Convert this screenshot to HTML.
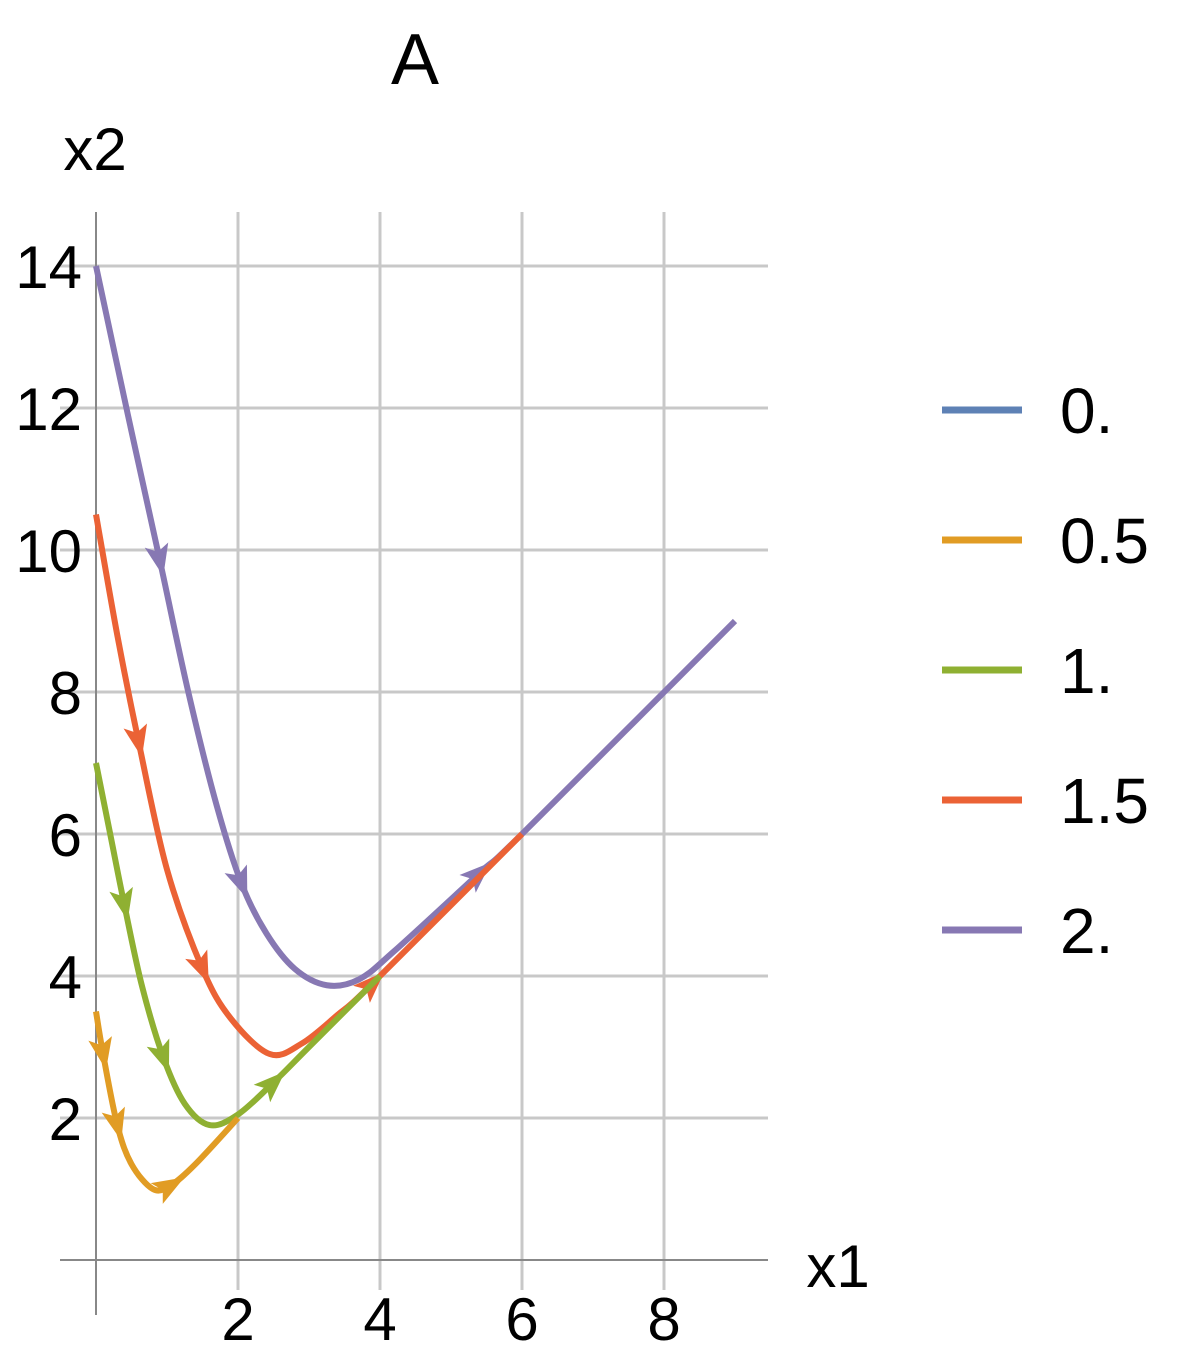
<!DOCTYPE html>
<html><head><meta charset="utf-8"><style>
body{margin:0;background:#fff}
svg{display:block;font-family:"Liberation Sans",sans-serif}
</style></head><body>
<svg id="chart" width="1185" height="1360">
<g id="grid"></g><g id="axes"></g><g id="series"></g><g id="legend"></g>
<text x="415" y="84" font-size="72" text-anchor="middle">A</text>
<text x="95" y="170" font-size="60" text-anchor="middle">x2</text>
<text x="838" y="1287" font-size="60" text-anchor="middle">x1</text>
</svg>
<script>
const xTicks=[2,4,6,8];
const yTicks=[2,4,6,8,10,12,14];
const seriesNames=["0.","0.5","1.","1.5","2."];
const seriesColors=["#5E81B5","#E19C24","#8FB032","#EB6235","#8778B3"];
const orangeX=[0,0.1,0.3,0.5,0.8,1.05,1.4,2];
const orangeY=[3.5,2.9,1.9,1.35,1.0,1.05,1.35,2];
const greenX=[0,0.2,0.4,0.65,0.95,1.25,1.6,2.0,2.5,3,4];
const greenY=[7,6.0,5.0,3.85,2.85,2.2,1.9,2.05,2.5,3,4];
const redX=[0,0.3,0.6,1.0,1.5,1.9,2.45,2.9,3.4,3.9,6];
const redY=[10.5,8.8,7.3,5.5,4.1,3.4,2.9,3.05,3.45,3.9,6];
const purpleX=[0,0.45,0.9,1.3,1.7,2.05,2.4,2.8,3.25,3.7,4.2,5.4,6,9];
const purpleY=[14,11.9,9.85,8.0,6.4,5.3,4.6,4.1,3.87,3.95,4.35,5.45,6,9];
const arrowIdx={1:[1,2,5],2:[2,4,8],3:[2,4,9],4:[2,5,11]};
const NS="http://www.w3.org/2000/svg";
const sx=v=>96+71*v, sy=v=>1260-71*v;
function mk(tag,attrs,parent){const e=document.createElementNS(NS,tag);for(const k in attrs)e.setAttribute(k,attrs[k]);parent.appendChild(e);return e;}
const grid=document.getElementById('grid'),axes=document.getElementById('axes'),ser=document.getElementById('series'),leg=document.getElementById('legend');
xTicks.forEach(t=>{
 const l=mk('line',{x1:sx(t),x2:sx(t),y1:212,y2:1290,stroke:'#c8c8c8','stroke-width':3},grid);
 
 
 const tx=mk('text',{x:sx(t),y:1340,'font-size':60,'text-anchor':'middle'},axes);tx.textContent=t;
 
 
});
yTicks.forEach(t=>{
 const l=mk('line',{x1:60,x2:768,y1:sy(t),y2:sy(t),stroke:'#c8c8c8','stroke-width':3},grid);
 
 
 const tx=mk('text',{x:82,y:sy(t)+22,'font-size':60,'text-anchor':'end'},axes);tx.textContent=t;
 
 
});
const ya=mk('line',{x1:96,x2:96,y1:212,y2:1315,stroke:'#888','stroke-width':2},axes);


const xa=mk('line',{x1:60,x2:768,y1:1260,y2:1260,stroke:'#888','stroke-width':2},axes);


const data={1:[orangeX,orangeY],2:[greenX,greenY],3:[redX,redY],4:[purpleX,purpleY]};
[4,3,2,1].forEach(i=>{
 const [X,Y]=data[i];const P=X.map((x,k)=>[sx(x),sy(Y[k])]);
 let d='M'+P[0][0]+','+P[0][1];
 for(let k=0;k<P.length-1;k++){const p0=P[k-1]||P[k],p1=P[k],p2=P[k+1],p3=P[k+2]||p2;
  d+=' C'+(p1[0]+(p2[0]-p0[0])/6)+','+(p1[1]+(p2[1]-p0[1])/6)+' '+(p2[0]-(p3[0]-p1[0])/6)+','+(p2[1]-(p3[1]-p1[1])/6)+' '+p2[0]+','+p2[1];}
 const path=mk('path',{d:d,fill:'none',stroke:seriesColors[i],'stroke-width':6},ser);
 
 
 arrowIdx[i].forEach(k=>{
  const a=P[k],b=P[Math.min(k+1,P.length-1)],p=P[Math.max(k-1,0)];
  const ang=Math.atan2(b[1]-p[1],b[0]-p[0])*180/Math.PI;
  const ar=mk('polygon',{points:'16,0 -16,-12 -9,0 -16,12',fill:seriesColors[i],transform:`translate(${a[0]},${a[1]}) rotate(${ang})`},ser);
  
  
 });
});
seriesNames.forEach((n,i)=>{
 const y=410+130*i;
 const g=mk('g',{},leg);
 
 
 mk('line',{x1:942,x2:1022,y1:y,y2:y,stroke:seriesColors[i],'stroke-width':7},g);
 const t=mk('text',{x:1060,y:y+23,'font-size':64},g);t.textContent=n;
});
</script>
</body></html>
